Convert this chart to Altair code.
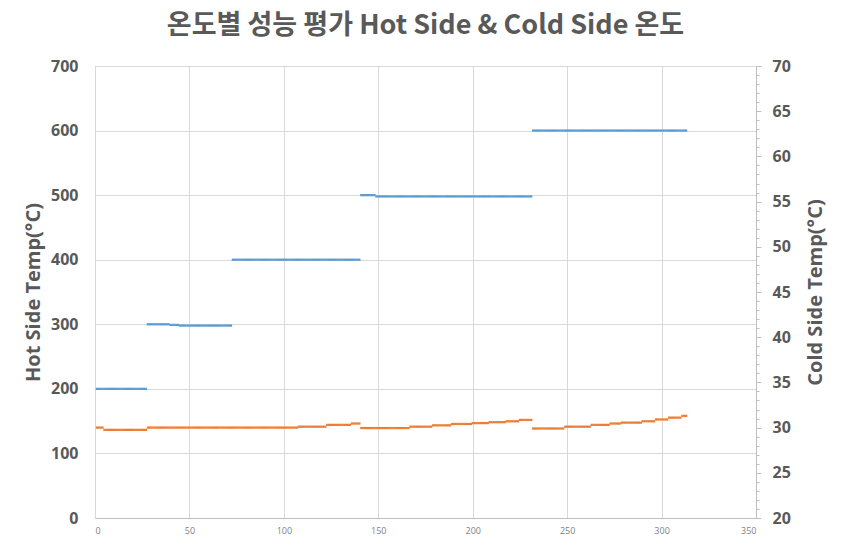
import altair as alt
import pandas as pd

# Hot side temperature (left axis), run-length encoded: value held for count samples
hot_values = [200, 300, 299, 298, 400, 500, 498, 600]
hot_counts = [27, 12, 5, 28, 68, 8, 83, 82]

# Cold side temperature (right axis), run-length encoded
cold_values = [30.0, 29.75, 30.0, 30.1, 30.3, 30.45,
               29.95, 30.1, 30.25, 30.4, 30.5, 30.6, 30.7, 30.85,
               29.9, 30.1, 30.3, 30.45, 30.55, 30.7, 30.9, 31.1, 31.3]
cold_counts = [4, 23, 80, 15, 13, 5,
               26, 12, 10, 11, 9, 9, 7, 7,
               17, 14, 10, 6, 11, 7, 7, 7, 3]

x_ticks = [0, 50, 100, 150, 200, 250, 300, 350]
left_ticks = [0, 100, 200, 300, 400, 500, 600, 700]
right_ticks = list(range(20, 71))


def expand(values, counts):
    out = []
    for v, c in zip(values, counts):
        out.extend([v] * c)
    return out


hot = expand(hot_values, hot_counts)
cold = expand(cold_values, cold_counts)
df = pd.DataFrame({"x": list(range(1, len(hot) + 1)), "hot": hot, "cold": cold})

TXT = "#595959"
GRID = "#D9D9D9"

x_enc = alt.X(
    "x:Q",
    scale=alt.Scale(domain=[0, 350], nice=False),
    axis=alt.Axis(values=x_ticks, title=None, grid=True, gridColor=GRID,
                  labelFontSize=9, labelColor="#7F7F7F", labelFont="Open Sans",
                  labelPadding=8, ticks=False, domainColor="#BFBFBF"),
)

hot_layer = alt.Chart(df).mark_square(size=5, color="#5B9BD5", opacity=1).encode(
    x=x_enc,
    y=alt.Y("hot:Q", scale=alt.Scale(domain=[0, 700], nice=False),
            axis=alt.Axis(values=left_ticks, title="Hot Side Temp(°C)", grid=True,
                          gridColor=GRID, ticks=False, domainColor=GRID,
                          labelFont="Open Sans", labelFontSize=16, labelFontWeight="bold",
                          labelColor=TXT, labelPadding=17,
                          titleFont="Open Sans", titleFontSize=20, titleFontWeight="bold",
                          titleColor=TXT, titleAngle=270, titleAlign="center",
                          titleBaseline="middle", titleX=-62, titleY=226)),
)

cold_layer = alt.Chart(df).mark_square(size=5, color="#ED7D31", opacity=1).encode(
    x=x_enc,
    y=alt.Y("cold:Q", scale=alt.Scale(domain=[20, 70], nice=False),
            axis=alt.Axis(orient="right", values=right_ticks, title="Cold Side Temp(°C)",
                          grid=False, domainColor="#BFBFBF", tickColor="#BFBFBF",
                          tickSize={"condition": {"test": "datum.value % 5 === 0", "value": 5}, "value": 3},
                          labelExpr="datum.value % 5 === 0 ? datum.label : ''",
                          labelFont="Open Sans", labelFontSize=16, labelFontWeight="bold",
                          labelColor=TXT, labelPadding=11,
                          titleFont="Open Sans", titleFontSize=20, titleFontWeight="bold",
                          titleColor=TXT, titleAngle=270, titleAlign="center",
                          titleBaseline="middle", titleX=59, titleY=226)),
)

chart = (
    alt.layer(hot_layer, cold_layer)
    .resolve_scale(y="independent")
    .properties(
        width=661,
        height=452,
        title=alt.TitleParams("온도별 성능 평가 Hot Side & Cold Side 온도",
                              font="Noto Sans CJK KR", fontSize=27, fontWeight="bold",
                              color=TXT, anchor="middle", offset=18),
        autosize=alt.AutoSizeParams(type="none"),
        padding={"left": 95, "top": 66, "right": 86, "bottom": 27},
    )
    .configure_view(stroke=None)
    .configure(background="white")
)

chart.save("out.html", embed_options={"renderer": "svg", "actions": False})
